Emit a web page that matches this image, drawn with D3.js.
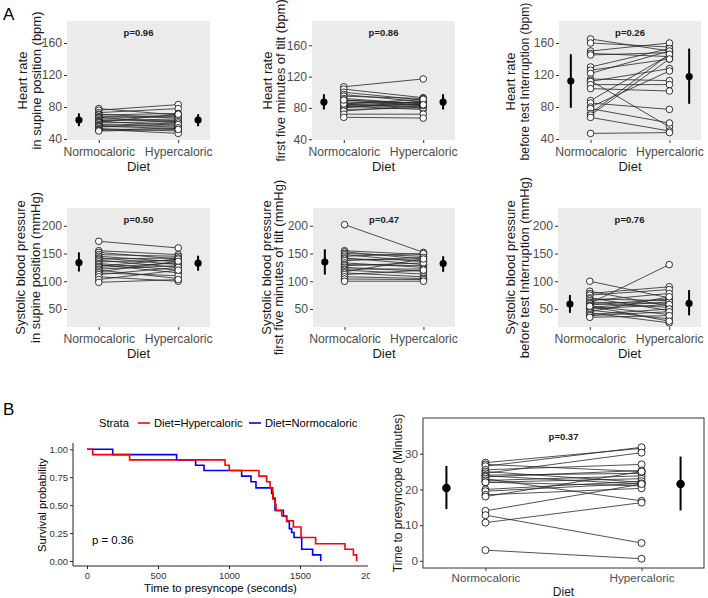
<!DOCTYPE html>
<html><head><meta charset="utf-8">
<script src="https://cdn.jsdelivr.net/npm/d3@7"></script>
<style>
body{margin:0;background:#fff}
svg{display:block}
text{font-family:"Liberation Sans",Arial,Helvetica,sans-serif}
</style>
</head><body>
<svg id="chart" width="708" height="598"></svg>
<script>
// ---------------- DATA ----------------
const dietCategories = ["Normocaloric", "Hypercaloric"];

// Panel A1: heart rate in supine position (bpm)
const hrSupineNormo = [78, 76, 73, 71, 70, 68, 67, 66, 64, 63, 62, 61, 60, 58, 57, 56, 55, 53, 52, 51, 50];
const hrSupineHyper = [70, 83, 78, 66, 72, 69, 60, 68, 63, 65, 57, 71, 62, 55, 60, 53, 58, 50, 47, 54, 52];
const hrSupineSummary = [[63.7, 56, 72], [63.7, 56, 71]]; // mean, low, high
const hrSupineTicks = [40, 80, 120, 160];

// Panel A2: heart rate first five minutes of tilt (bpm)
const hrTiltNormo = [107, 104, 100, 97, 95, 92, 90, 88, 86, 85, 84, 83, 82, 81, 80, 78, 76, 72, 68, 85, 90];
const hrTiltHyper = [117, 93, 90, 88, 92, 85, 86, 83, 87, 80, 84, 82, 78, 85, 89, 80, 83, 72, 67, 91, 84];
const hrTiltSummary = [[87.5, 78, 97.5], [87.5, 78, 97.5]];
const hrTiltTicks = [40, 80, 120, 160];

// Panel A3: heart rate before test interruption (bpm)
const hrEndNormo = [165, 160, 150, 147, 145, 130, 126, 122, 115, 113, 112, 108, 103, 88, 85, 80, 78, 72, 70, 67, 47];
const hrEndHyper = [150, 155, 160, 143, 148, 153, 140, 150, 113, 55, 128, 108, 100, 145, 77, 125, 60, 146, 140, 50, 48];
const hrEndSummary = [[112.5, 79, 146], [118, 84, 153]];
const hrEndTicks = [40, 80, 120, 160];

// Panel A4: systolic blood pressure in supine position (mmHg)
const sbpSupineNormo = [172, 155, 152, 148, 145, 142, 140, 138, 135, 132, 130, 127, 125, 122, 120, 117, 115, 112, 108, 103, 98];
const sbpSupineHyper = [160, 148, 140, 145, 135, 130, 142, 125, 138, 120, 115, 140, 133, 128, 105, 136, 110, 125, 100, 120, 103];
const sbpSupineSummary = [[133.5, 117.5, 152], [132.5, 119, 146]];
const sbpTicks = [50, 100, 150, 200];

// Panel A5: systolic blood pressure first five minutes of tilt (mmHg)
const sbpTiltNormo = [202, 155, 153, 150, 148, 145, 142, 140, 137, 133, 130, 128, 125, 122, 120, 117, 115, 112, 108, 104, 100];
const sbpTiltHyper = [152, 148, 140, 145, 135, 150, 130, 138, 143, 125, 128, 133, 118, 122, 113, 140, 108, 120, 105, 103, 100];
const sbpTiltSummary = [[134.5, 112, 157.5], [132, 117, 145]];

// Panel A6: systolic blood pressure before test interruption (mmHg)
const sbpEndNormo = [100, 82, 78, 75, 70, 68, 65, 62, 60, 60, 57, 55, 53, 50, 48, 45, 43, 40, 38, 35, 55];
const sbpEndHyper = [70, 55, 90, 85, 47, 65, 78, 60, 130, 53, 68, 40, 63, 58, 32, 72, 25, 50, 45, 38, 28];
const sbpEndSummary = [[59, 43, 75], [60, 38.5, 84]];

const pValuesA = ["p=0.96", "p=0.86", "p=0.26", "p=0.50", "p=0.47", "p=0.76"];

// Panel B (right): time to presyncope (minutes)
const timeNormo = [27.5, 27, 26.5, 25.5, 25, 24.5, 24, 23.8, 23.5, 23, 22.5, 22, 22, 20, 19.5, 18.5, 18, 14, 12.8, 10.7, 3];
const timeHyper = [31.5, 25, 31.8, 27, 22, 30.3, 24.5, 21.5, 25.3, 16.8, 23.8, 23, 21, 22.3, 21.7, 20.3, 25, 21.5, 5, 16.3, 0.6];
const timeSummary = [[20.4, 14.5, 26.6], [21.5, 14.1, 29.2]];
const timeTicks = [0, 10, 20, 30];
const pValueTime = "p=0.37";

// Panel B (left): Kaplan-Meier curves
const kmHyperTimes = [0, 40, 300, 972, 1002, 1211, 1265, 1289, 1308, 1324, 1331, 1371, 1406, 1453, 1507, 1610, 1817, 1876, 1899];
const kmHyperSurv  = [1, 0.952, 0.905, 0.857, 0.81, 0.76, 0.71, 0.655, 0.565, 0.505, 0.45, 0.405, 0.36, 0.305, 0.21, 0.155, 0.105, 0.055, 0];
const kmNormoTimes = [0, 181, 631, 765, 824, 1089, 1155, 1190, 1300, 1310, 1324, 1383, 1406, 1425, 1441, 1458, 1512, 1589, 1646];
const kmNormoSurv  = [1, 0.952, 0.905, 0.857, 0.81, 0.76, 0.71, 0.655, 0.605, 0.555, 0.455, 0.40, 0.355, 0.29, 0.255, 0.21, 0.105, 0.055, 0];
const kmXTicks = [0, 500, 1000, 1500, 2000];
const kmYTicks = [0, 0.25, 0.5, 0.75, 1];
const kmStrata = ["Diet=Hypercaloric", "Diet=Normocaloric"];
const kmPValue = "p = 0.36";

// ---------------- DRAWING ----------------
const svg = d3.select("#chart");
const TICK_COL = "#4D4D4D";
const TITLE_COL = "#1a1a1a";

function pairedPanel(o) {
  const g = svg.append("g");
  const x = d3.scaleLinear().domain([0.6, 2.4]).range([o.x0, o.x1]);
  const y = d3.scaleLinear().domain(o.yDomain).range([o.y1, o.y0]);
  g.append("rect").attr("x", o.x0).attr("y", o.y0)
    .attr("width", o.x1 - o.x0).attr("height", o.y1 - o.y0)
    .attr("fill", o.bordered ? "#fff" : "#EBEBEB")
    .attr("stroke", o.bordered ? "#333" : "none").attr("stroke-width", 1);
  const ya = g.append("g").attr("transform", `translate(${o.x0},0)`)
    .call(d3.axisLeft(y).tickValues(o.ticks).tickSize(3).tickPadding(2).tickFormat(d3.format("d")));
  ya.select(".domain").remove();
  ya.selectAll(".tick line").attr("stroke", "#333");
  ya.selectAll(".tick text").attr("fill", TICK_COL).style("font-size", o.tickFont + "px");
  const xa = g.append("g").attr("transform", `translate(0,${o.y1})`)
    .call(d3.axisBottom(x).tickValues([1, 2]).tickSize(3).tickPadding(o.xPad)
      .tickFormat(d => dietCategories[d - 1]));
  xa.select(".domain").remove();
  xa.selectAll(".tick line").attr("stroke", "#333");
  xa.selectAll(".tick text").attr("fill", TICK_COL).style("font-size", o.tickFont + "px");
  g.append("text").attr("x", (x(1) + x(2)) / 2).attr("y", o.y1 + o.dietDy)
    .attr("text-anchor", "middle").attr("fill", TITLE_COL)
    .style("font-size", o.titleFont + "px").text("Diet");
  const cy = (o.y0 + o.y1) / 2 + (o.titleShift || 0);
  o.titleLines.forEach((t, i) => {
    const fs = (o.titleFonts && o.titleFonts[i]) || o.titleFont;
    g.append("text").attr("transform", `translate(${o.titleX[i]},${cy}) rotate(-90)`)
      .attr("text-anchor", "middle").attr("dy", "0.35em").attr("fill", TITLE_COL)
      .style("font-size", fs + "px").text(t);
  });
  const pairs = o.normo.map((v, i) => [v, o.hyper[i]]);
  g.append("g").selectAll("line").data(pairs).join("line")
    .attr("x1", x(1)).attr("x2", x(2))
    .attr("y1", d => y(d[0])).attr("y2", d => y(d[1]))
    .attr("stroke", "#262626").attr("stroke-width", 0.8);
  const pts = [];
  o.normo.forEach(v => pts.push([1, v]));
  o.hyper.forEach(v => pts.push([2, v]));
  g.append("g").selectAll("circle").data(pts).join("circle")
    .attr("cx", d => x(d[0])).attr("cy", d => y(d[1])).attr("r", o.ptR)
    .attr("fill", "#fff").attr("stroke", "#000").attr("stroke-width", 0.8);
  const sumPos = [0.75, 2.25];
  o.summary.forEach((s, i) => {
    g.append("line").attr("x1", x(sumPos[i])).attr("x2", x(sumPos[i]))
      .attr("y1", y(s[1])).attr("y2", y(s[2])).attr("stroke", "#000").attr("stroke-width", 2);
    g.append("circle").attr("cx", x(sumPos[i])).attr("cy", y(s[0])).attr("r", o.meanR).attr("fill", "#000");
  });
  g.append("text").attr("x", (o.x0 + o.x1) / 2).attr("y", o.y0 + o.pDy)
    .attr("text-anchor", "middle").attr("fill", "#222").attr("font-weight", "bold")
    .style("font-size", "9.5px").text(o.p);
}

const rowA1 = {y0: 21, y1: 140, yDomain: [38.75, 187.5], ticks: hrSupineTicks};
const rowA2 = {y0: 208, y1: 327, yDomain: [17.5, 232], ticks: sbpTicks};
const common = {tickFont: 12.2, titleFont: 13, xPad: 4, dietDy: 31, ptR: 3.3, meanR: 3.6, pDy: 15};

pairedPanel({...common, ...rowA1, x0: 67, x1: 210, titleX: [22, 36],
  titleLines: ["Heart rate", "in supine position (bpm)"],
  normo: hrSupineNormo, hyper: hrSupineHyper, summary: hrSupineSummary, p: pValuesA[0]});
pairedPanel({...common, ...rowA1, yDomain: [39, 191], ticks: hrTiltTicks, x0: 312, x1: 455, titleX: [267, 280],
  titleLines: ["Heart rate", "first five minutes of tilt (bpm)"],
  normo: hrTiltNormo, hyper: hrTiltHyper, summary: hrTiltSummary, p: pValuesA[1]});
pairedPanel({...common, ...rowA1, ticks: hrEndTicks, x0: 559, x1: 701, titleX: [510.5, 525],
  titleFonts: [13, 12.2], titleShift: 1,
  titleLines: ["Heart rate", "before test Interruption (bpm)"],
  normo: hrEndNormo, hyper: hrEndHyper, summary: hrEndSummary, p: pValuesA[2]});
pairedPanel({...common, ...rowA2, x0: 67, x1: 210, titleX: [20, 35],
  titleLines: ["Systolic blood pressure", "in supine position (mmHg)"],
  normo: sbpSupineNormo, hyper: sbpSupineHyper, summary: sbpSupineSummary, p: pValuesA[3]});
pairedPanel({...common, ...rowA2, x0: 313, x1: 455, titleX: [266, 278.5],
  titleLines: ["Systolic blood pressure", "first five minutes of tilt (mmHg)"],
  normo: sbpTiltNormo, hyper: sbpTiltHyper, summary: sbpTiltSummary, p: pValuesA[4]});
pairedPanel({...common, ...rowA2, x0: 558, x1: 701, titleX: [510.5, 524.5],
  titleLines: ["Systolic blood pressure", "before test Interruption (mmHg)"],
  normo: sbpEndNormo, hyper: sbpEndHyper, summary: sbpEndSummary, p: pValuesA[5]});

// B right panel
pairedPanel({tickFont: 11.7, titleFont: 12, xPad: 3, dietDy: 28, ptR: 3.5, meanR: 4.3, pDy: 22,
  bordered: true, x0: 423, x1: 704, y0: 418, y1: 568, yDomain: [-2, 40], ticks: timeTicks,
  titleX: [398], titleLines: ["Time to presyncope (Minutes)"],
  normo: timeNormo, hyper: timeHyper, summary: timeSummary, p: pValueTime});

svg.append("text").attr("x", 3).attr("y", 20).style("font-size", "17px").attr("fill", "#000").text("A");
svg.append("text").attr("x", 3).attr("y", 415).style("font-size", "17px").attr("fill", "#000").text("B");

// ---- Kaplan-Meier ----
const km = svg.append("g");
const clip = svg.append("defs").append("clipPath").attr("id", "kmclip");
clip.append("rect").attr("x", 0).attr("y", 380).attr("width", 370).attr("height", 218);
km.attr("clip-path", "url(#kmclip)");
const kx = d3.scaleLinear().domain([0, 2000]).range([87, 371]);
const ky = d3.scaleLinear().domain([0, 1]).range([561, 449.3]);
const kL = 73, kR = 368, kT = 443, kB = 566;

km.append("line").attr("x1", kL).attr("x2", kL).attr("y1", kT).attr("y2", kB).attr("stroke", "#222").attr("stroke-width", 1);
km.append("line").attr("x1", kL).attr("x2", kR).attr("y1", kB).attr("y2", kB).attr("stroke", "#222").attr("stroke-width", 1);

const kya = km.append("g").attr("transform", `translate(${kL},0)`)
  .call(d3.axisLeft(ky).tickValues(kmYTicks).tickSize(3).tickPadding(2).tickFormat(d3.format(".2f")));
kya.select(".domain").remove();
kya.selectAll(".tick line").attr("stroke", "#222");
kya.selectAll(".tick text").attr("fill", "#333").style("font-size", "9.5px");
const kxa = km.append("g").attr("transform", `translate(0,${kB})`)
  .call(d3.axisBottom(kx).tickValues(kmXTicks).tickSize(3).tickPadding(3).tickFormat(d3.format("d")));
kxa.select(".domain").remove();
kxa.selectAll(".tick line").attr("stroke", "#222");
kxa.selectAll(".tick text").attr("fill", "#333").style("font-size", "9.5px");

const stepLine = d3.line().x(d => kx(d[0])).y(d => ky(d[1])).curve(d3.curveStepAfter);
km.append("path").datum(kmNormoTimes.map((t, i) => [t, kmNormoSurv[i]]))
  .attr("d", stepLine).attr("fill", "none").attr("stroke", "#0000FF").attr("stroke-width", 1.6);
km.append("path").datum(kmHyperTimes.map((t, i) => [t, kmHyperSurv[i]]))
  .attr("d", stepLine).attr("fill", "none").attr("stroke", "#FF0000").attr("stroke-width", 1.6);

km.append("text").attr("x", 92).attr("y", 544).style("font-size", "11.4px").attr("fill", "#000").text(kmPValue);
km.append("text").attr("x", (kL + kR) / 2).attr("y", 592).attr("text-anchor", "middle")
  .style("font-size", "11.4px").attr("fill", "#000").text("Time to presyncope (seconds)");
km.append("text").attr("transform", `translate(42,505) rotate(-90)`).attr("text-anchor", "middle")
  .attr("dy", "0.35em").style("font-size", "11.2px").attr("fill", "#000").text("Survival probability");

const lg = km.append("g");
lg.append("text").attr("x", 99).attr("y", 427).style("font-size", "11.2px").attr("fill", "#000").text("Strata");
const legCols = ["#FF0000", "#0000FF"];
const legX = [138, 249];
kmStrata.forEach((s, i) => {
  lg.append("line").attr("x1", legX[i]).attr("x2", legX[i] + 12).attr("y1", 423).attr("y2", 423)
    .attr("stroke", legCols[i]).attr("stroke-width", 1.6);
  lg.append("text").attr("x", legX[i] + 16).attr("y", 427).style("font-size", "11.2px").attr("fill", "#000").text(s);
});
</script>
</body></html>
